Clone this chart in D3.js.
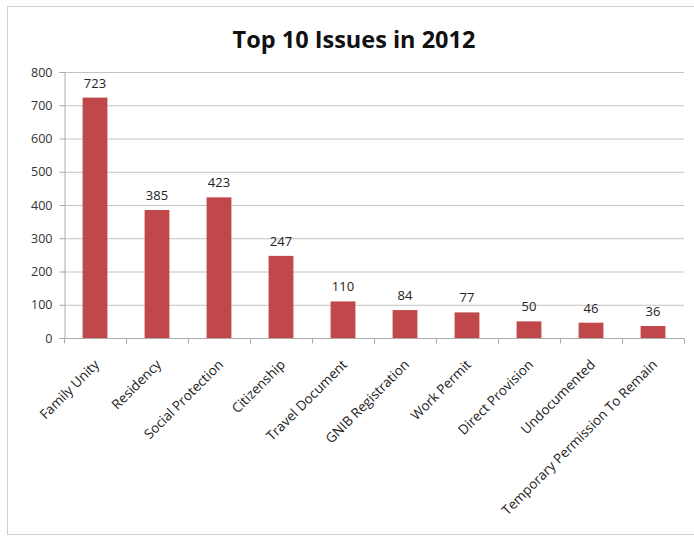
<!DOCTYPE html>
<html><head><meta charset="utf-8">
<script src="https://d3js.org/d3.v7.min.js"></script>
<style>body{margin:0;background:#fff;} svg{display:block;}</style>
</head><body>
<script>
const categories = ["Family Unity","Residency","Social Protection","Citizenship","Travel Document","GNIB Registration","Work Permit","Direct Provision","Undocumented","Temporary Permission To Remain"];
const values = [723,385,423,247,110,84,77,50,46,36];
const yTicks = [0,100,200,300,400,500,600,700,800];
const title = "Top 10 Issues in 2012";

(function(){
const W = 694, H = 537;
const svg = d3.select("body").append("svg").attr("width", W).attr("height", H);
svg.append("rect").attr("x",7.5).attr("y",6.5).attr("width",W+10).attr("height",H-9)
  .attr("fill","#fff").attr("stroke","#d0d0d0");

const mL = 64, mR = 684, mT = 72, mB = 338;
const x = d3.scaleBand().domain(categories).range([mL, mR]).paddingInner(0.6).paddingOuter(0.3);
const y = d3.scaleLinear().domain([0,800]).range([mB, mT]);
const font = "Open Sans, sans-serif";

svg.append("text").attr("x", 354).attr("y", 48).attr("text-anchor","middle")
  .attr("font-family",font).attr("font-weight","bold").attr("font-size",23.5)
  .attr("fill","#111").text(title);

svg.append("g").selectAll("line").data(yTicks.filter(d=>d>0)).join("line")
  .attr("x1", mL).attr("x2", mR).attr("y1", d=>y(d)+0.5).attr("y2", d=>y(d)+0.5)
  .attr("stroke","#c4c4c4").attr("stroke-width",1);

const yAxis = svg.append("g").attr("transform",`translate(${mL+0.5},0)`)
  .call(d3.axisLeft(y).tickValues(yTicks).tickSize(5).tickPadding(7));
yAxis.select(".domain").attr("stroke","#aaa");
yAxis.selectAll(".tick line").attr("stroke","#aaa");
yAxis.selectAll("text").attr("font-family",font).attr("font-size",12.5).attr("fill","#333");

svg.append("g").selectAll("rect").data(values).join("rect")
  .attr("x",(d,i)=>x(categories[i])).attr("width",x.bandwidth())
  .attr("y",d=>y(d)).attr("height",d=>mB-y(d)).attr("fill","#c0474a");

const xg = svg.append("g").attr("transform",`translate(0,${mB+0.5})`);
xg.append("line").attr("x1",mL).attr("x2",mR).attr("stroke","#aaa");
const tickPos = d3.range(categories.length+1).map(i=>mL + (mR-mL)*i/categories.length);
xg.selectAll("line.t").data(tickPos).join("line").attr("class","t")
  .attr("x1",d=>d+0.5).attr("x2",d=>d+0.5).attr("y1",0).attr("y2",5).attr("stroke","#aaa");
xg.selectAll("text").data(categories).join("text")
  .attr("transform",d=>`translate(${x(d)+x.bandwidth()/2+5},${27}) rotate(-45)`)
  .attr("text-anchor","end").attr("font-family",font).attr("font-size",13.5)
  .attr("fill","#222").text(d=>d);

svg.append("g").selectAll("text").data(values).join("text")
  .attr("x",(d,i)=>x(categories[i])+x.bandwidth()/2).attr("y",d=>y(d)-10)
  .attr("text-anchor","middle").attr("font-family",font).attr("font-size",13)
  .attr("fill","#222").text(d=>d);
})();
</script>
</body></html>
